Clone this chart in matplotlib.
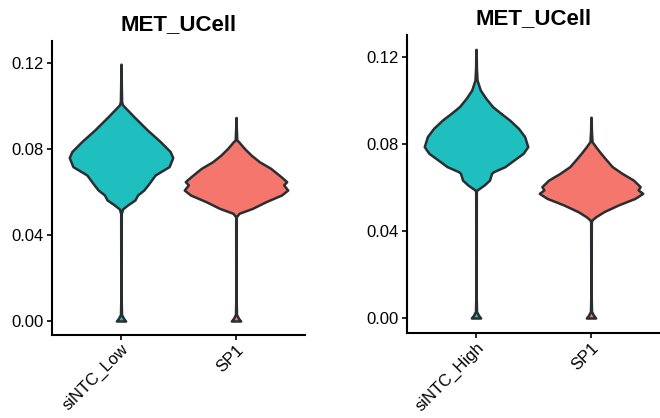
import numpy as np
import matplotlib
matplotlib.use('Agg')
import matplotlib.pyplot as plt

plt.rcParams['font.family'] = ['Liberation Sans', 'DejaVu Sans']

# ─────────────────────────────────────────────
# DATA (violin profiles)
# value levels + relative width (1.0 = widest point)
# ─────────────────────────────────────────────

left_groups = ['siNTC_Low', 'SP1']
right_groups = ['siNTC_High', 'SP1']

low_vals = [0.0000, 0.0012, 0.0030, 0.0100, 0.0500, 0.0521, 0.0540, 0.0563,
            0.0586, 0.0609, 0.0633, 0.0679, 0.0718, 0.0760, 0.0788, 0.0834,
            0.0888, 0.0950, 0.1005, 0.1020, 0.1100, 0.1194]
low_dens = [0.09, 0.05, 0.01, 0.004, 0.006, 0.03, 0.13, 0.27,
            0.32, 0.44, 0.52, 0.66, 0.93, 1.00, 0.95, 0.76,
            0.51, 0.25, 0.03, 0.012, 0.006, 0.003]

sp1_left_vals = [0.0000, 0.0012, 0.0030, 0.0100, 0.0485, 0.0501, 0.0524, 0.0555,
                 0.0586, 0.0609, 0.0633, 0.0648, 0.0671, 0.0710, 0.0741, 0.0772,
                 0.0803, 0.0834, 0.0842, 0.0900, 0.0946]
sp1_left_dens = [0.09, 0.05, 0.01, 0.004, 0.006, 0.06, 0.32, 0.58,
                 0.88, 1.00, 0.92, 0.98, 0.87, 0.67, 0.45, 0.29,
                 0.16, 0.05, 0.015, 0.006, 0.003]

high_vals = [0.0000, 0.0012, 0.0030, 0.0100, 0.0580, 0.0589, 0.0596, 0.0612,
             0.0634, 0.0665, 0.0673, 0.0696, 0.0719, 0.0757, 0.0788, 0.0834,
             0.0872, 0.0910, 0.0941, 0.0972, 0.1010, 0.1048, 0.1094, 0.1150,
             0.1235]
high_dens = [0.09, 0.05, 0.01, 0.004, 0.006, 0.02, 0.065, 0.16,
             0.26, 0.30, 0.34, 0.56, 0.69, 0.91, 1.00, 0.94,
             0.82, 0.65, 0.48, 0.32, 0.19, 0.083, 0.02, 0.008,
             0.003]

sp1_right_vals = [0.0000, 0.0012, 0.0030, 0.0100, 0.0440, 0.0451, 0.0466, 0.0489,
                  0.0520, 0.0550, 0.0573, 0.0589, 0.0604, 0.0634, 0.0665, 0.0696,
                  0.0726, 0.0757, 0.0788, 0.0811, 0.0860, 0.0923]
sp1_right_dens = [0.09, 0.05, 0.01, 0.004, 0.006, 0.02, 0.095, 0.25,
                  0.53, 0.85, 1.00, 0.91, 0.95, 0.82, 0.60, 0.41,
                  0.30, 0.19, 0.089, 0.02, 0.008, 0.003]

yticks = [0.00, 0.04, 0.08, 0.12]

TEAL = '#1fbfc0'
SALMON = '#f4766d'
EDGE = '#2a2e30'


def draw_violin(ax, pos, vals, dens, color):
    v = np.array(vals)
    w = np.array(dens) * 0.45
    ax.fill_betweenx(v, pos - w, pos + w, facecolor=color, edgecolor=EDGE,
                     linewidth=1.8, joinstyle='round')


def style_axis(ax, groups, ylim):
    ax.set_xlim(0.4, 2.6)
    ax.set_ylim(*ylim)
    ax.set_xticks([1, 2])
    ax.set_xticklabels(groups, rotation=45, ha='right', rotation_mode='anchor',
                       fontsize=12)
    ax.set_yticks(yticks)
    ax.set_yticklabels([f'{t:.2f}' for t in yticks], fontsize=12)
    for s in ['top', 'right']:
        ax.spines[s].set_visible(False)
    for s in ['left', 'bottom']:
        ax.spines[s].set_linewidth(1.5)
    ax.tick_params(length=3.5, width=1.2, pad=2.5)
    ax.tick_params(axis='x', pad=1.5)
    ax.set_title('MET_UCell', fontsize=16, fontweight='bold', pad=8)


fig = plt.figure(figsize=(6.6, 4.18), dpi=100)
ax1 = fig.add_axes([0.0788, 0.1986, 0.3833, 0.7033])
ax2 = fig.add_axes([0.6167, 0.2033, 0.3833, 0.7129])

draw_violin(ax1, 1, low_vals, low_dens, TEAL)
draw_violin(ax1, 2, sp1_left_vals, sp1_left_dens, SALMON)
style_axis(ax1, left_groups, (-0.0065, 0.1302))

draw_violin(ax2, 1, high_vals, high_dens, TEAL)
draw_violin(ax2, 2, sp1_right_vals, sp1_right_dens, SALMON)
style_axis(ax2, right_groups, (-0.0069, 0.1301))

fig.savefig('out.png', dpi=100)
